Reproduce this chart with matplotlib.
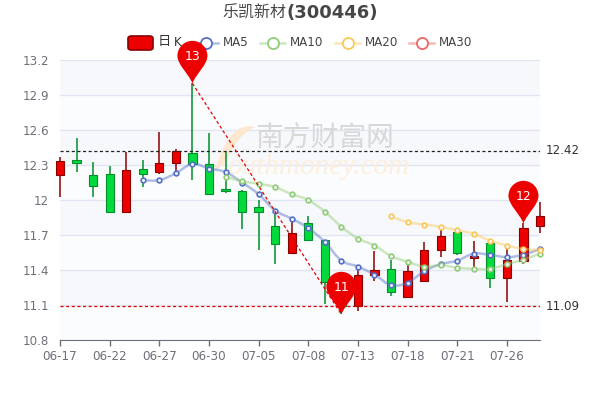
import matplotlib
matplotlib.use("Agg")
import matplotlib.pyplot as plt
from matplotlib.patches import PathPatch, Rectangle, FancyBboxPatch
from matplotlib.path import Path

dias = ["06-17", "06-18", "06-21", "06-22", "06-23", "06-24", "06-27", "06-28", "06-29", "06-30",
        "07-01", "07-02", "07-05", "07-06", "07-07", "07-08", "07-09", "07-12", "07-13", "07-14",
        "07-15", "07-18", "07-19", "07-20", "07-21", "07-22", "07-25", "07-26", "07-27", "07-28"]
abre = [12.21, 12.34, 12.21, 12.22, 11.90, 12.27, 12.24, 12.32, 12.40, 12.31,
        12.09, 12.08, 11.94, 11.78, 11.55, 11.80, 11.66, 11.29, 11.09, 11.36,
        11.41, 11.17, 11.31, 11.57, 11.73, 11.50, 11.63, 11.33, 11.48, 11.78]
cierra = [12.33, 12.32, 12.12, 11.90, 12.26, 12.22, 12.32, 12.42, 12.31, 12.05,
          12.08, 11.90, 11.90, 11.62, 11.72, 11.66, 11.30, 11.09, 11.36, 11.40,
          11.21, 11.39, 11.57, 11.69, 11.55, 11.52, 11.33, 11.49, 11.76, 11.86]
alto = [12.37, 12.53, 12.33, 12.29, 12.41, 12.34, 12.58, 12.44, 13.00, 12.57,
        12.41, 12.09, 12.00, 11.91, 11.83, 11.86, 11.66, 11.29, 11.42, 11.56,
        11.49, 11.44, 11.64, 11.77, 11.73, 11.65, 11.63, 11.59, 11.80, 11.98]
bajo = [12.03, 12.24, 12.03, 11.90, 11.89, 12.11, 12.22, 12.24, 12.17, 12.05,
        12.06, 11.75, 11.57, 11.45, 11.55, 11.65, 11.11, 11.02, 11.05, 11.31,
        11.18, 11.17, 11.31, 11.51, 11.53, 11.38, 11.25, 11.13, 11.45, 11.72]
ma5 = [None, None, None, None, None, 12.17, 12.17, 12.23, 12.31, 12.27,
       12.24, 12.15, 12.05, 11.91, 11.84, 11.76, 11.64, 11.48, 11.43, 11.36,
       11.27, 11.29, 11.39, 11.45, 11.48, 11.54, 11.53, 11.51, 11.53, 11.58]
ma10 = [None, None, None, None, None, None, None, None, None, None,
        12.20, 12.16, 12.14, 12.11, 12.05, 12.00, 11.90, 11.77, 11.67, 11.61,
        11.52, 11.47, 11.43, 11.44, 11.42, 11.41, 11.41, 11.45, 11.49, 11.54]
ma20 = [None] * 20 + [11.86, 11.81, 11.79, 11.77, 11.74, 11.71, 11.65, 11.61, 11.58, 11.57]
niveles = [12.42, 11.09]
pines = [(8, 13.00, "13"), (17, 11.02, "11"), (28, 11.80, "12")]
yticks = [10.8, 11.1, 11.4, 11.7, 12, 12.3, 12.6, 12.9, 13.2]
xticks = [0, 3, 6, 9, 12, 15, 18, 21, 24, 27]

rojo = "#ec0000"
rojo2 = "#8a0000"
verde = "#00da3c"
verde2 = "#008f28"
gris = "#6e7079"
azul = "#5470c6"
lima = "#91cc75"
amarillo = "#fac858"
coral = "#ee6666"
cjk = ["Noto Sans CJK SC", "DejaVu Sans"]

fig = plt.figure(figsize=(6, 4), dpi=100)
ax = fig.add_axes([60 / 600, 60 / 400, 480 / 600, 280 / 400])
ax.set_xlim(0, 29)
ax.set_ylim(10.8, 13.2)
ax.set_facecolor("#ffffff")
for s in ["top", "left", "right"]:
    ax.spines[s].set_visible(False)
ax.spines["bottom"].set_color(gris)
ax.set_xticks(xticks)
ax.set_xticklabels([dias[i] for i in xticks])
ax.set_yticks(yticks)
ax.set_yticklabels([str(v) for v in yticks])
ax.tick_params(axis="x", colors=gris, labelsize=8.6, length=4, width=1, pad=3)
ax.tick_params(axis="y", colors=gris, labelsize=8.6, length=0, pad=8)
ax.grid(axis="y", color="#e0e6f1", lw=1, zorder=1)
ax.set_axisbelow(True)

# bandas de fondo
for k in range(len(yticks) - 1):
    ax.axhspan(yticks[k], yticks[k + 1], color="#f6f8fc" if k % 2 else "#fbfcfd", lw=0, zorder=0)


def px(x, y):
    return x / 600, 1 - y / 400


# marca de agua
logo = Path([px(255, 127), px(232, 122), px(224, 145), px(214, 171),
             px(232, 165), px(228, 140), px(255, 127)],
            [Path.MOVETO, Path.CURVE4, Path.CURVE4, Path.CURVE4, Path.CURVE4, Path.CURVE4, Path.CURVE4])
ax.add_patch(PathPatch(logo, transform=fig.transFigure, fc="#fde8cf", ec="none", zorder=1.5, clip_on=False))
ax.text(*px(325, 139), "南方财富网", transform=fig.transFigure, family=cjk, fontsize=20, fontweight="medium",
        color="#d8d8d8", ha="center", va="center", zorder=1.6)
ax.text(*px(318, 174), "outhmoney.com", transform=fig.transFigure, family="Liberation Serif", style="italic",
        fontsize=21, color="#fdeedd", ha="center", va="baseline", zorder=1.6)

# velas
for i in range(len(dias)):
    sube = cierra[i] >= abre[i]
    ax.vlines(i, bajo[i], alto[i], color=rojo2 if sube else verde2, lw=1.1, zorder=3, clip_on=False)
    ax.add_patch(Rectangle((i - 0.25, min(abre[i], cierra[i])), 0.5, abs(cierra[i] - abre[i]),
                           fc=rojo if sube else verde, ec=rojo2 if sube else verde2, lw=0.8, zorder=3.1,
                           clip_on=False))


def suave(xs, ys, k=0.17):
    # curva tipo echarts smooth
    vert = [(xs[0], ys[0])]
    cod = [Path.MOVETO]
    for i in range(len(xs) - 1):
        a = max(i - 1, 0)
        b = min(i + 2, len(xs) - 1)
        vert.append((xs[i] + k * (xs[i + 1] - xs[a]), ys[i] + k * (ys[i + 1] - ys[a])))
        vert.append((xs[i + 1] - k * (xs[b] - xs[i]), ys[i + 1] - k * (ys[b] - ys[i])))
        vert.append((xs[i + 1], ys[i + 1]))
        cod += [Path.CURVE4, Path.CURVE4, Path.CURVE4]
    return Path(vert, cod)


for serie, col in [(ma5, azul), (ma10, lima), (ma20, amarillo)]:
    xs = [i for i, v in enumerate(serie) if v is not None]
    ys = [v for v in serie if v is not None]
    ax.add_patch(PathPatch(suave(xs, ys), fc="none", ec=col, lw=1.8, alpha=0.45, zorder=4, clip_on=False))
    ax.plot(xs, ys, ls="none", marker="o", ms=3.4, mfc="#f4f6fb", mec=col, mew=1.2, zorder=4.2, clip_on=False)

# lineas de marca
ax.axhline(niveles[0], color="#222222", ls=(0, (2.5, 2)), lw=0.9, zorder=5)
ax.axhline(niveles[1], color="#e00000", ls=(0, (2.5, 2)), lw=0.9, zorder=5)
ax.plot([pines[0][0], pines[1][0]], [pines[0][1], pines[1][1]], color="#e00000", ls=(0, (2.5, 2)), lw=0.9, zorder=5)
for v in niveles:
    ax.text(1.0115, v, str(v), transform=ax.get_yaxis_transform(), color="#333333", fontsize=8.6, va="center")

# leyenda
ax.add_patch(FancyBboxPatch(px(128, 50), 25 / 600, 14 / 400, boxstyle="round,pad=0,rounding_size=0.006",
                            transform=fig.transFigure, fc=rojo, ec=rojo2, lw=1.2, zorder=6, clip_on=False,
                            mutation_aspect=1.0))
ax.text(*px(158, 42), "日", transform=fig.transFigure, family=cjk, fontsize=9.5, color="#333333", va="center", zorder=6)
ax.text(*px(174, 43), "K", transform=fig.transFigure, fontsize=8.6, color="#333333", va="center", zorder=6)
for x0, nombre, col in [(193, "MA5", azul), (260, "MA10", lima), (335, "MA20", amarillo), (409, "MA30", coral)]:
    a = px(x0, 42.5)
    b = px(x0 + 25, 42.5)
    ax.plot([a[0], b[0]], [a[1], b[1]], color=col, lw=1.8, alpha=0.45, transform=fig.transFigure, zorder=6, clip_on=False)
    c = px(x0 + 12.5, 42.5)
    ax.plot([c[0]], [c[1]], marker="o", ms=8, mfc="white", mec=col, mew=1.3, transform=fig.transFigure, zorder=6.1,
            clip_on=False)
    ax.text(*px(x0 + 30, 43), nombre, transform=fig.transFigure, fontsize=8.6, color="#444444", va="center", zorder=6)

# titulo
ax.text(*px(254, 13), "乐凯新材", transform=fig.transFigure, family=cjk, fontsize=11.5, color="#464646",
        ha="center", va="center", zorder=6)
ax.text(*px(287, 13), "(300446)", transform=fig.transFigure, fontsize=13, fontweight="bold", color="#464646",
        ha="left", va="center", zorder=6)

# pines
fig.canvas.draw()
for i, v, txt in pines:
    tx, ty = ax.transData.transform((i, v))
    r = 15
    cy = ty + 27.5
    k = 0.5523 * r
    verts = [(tx, ty), (tx - 4, ty + 10), (tx - r, cy - 9), (tx - r, cy),
             (tx - r, cy + k), (tx - k, cy + r), (tx, cy + r),
             (tx + k, cy + r), (tx + r, cy + k), (tx + r, cy),
             (tx + r, cy - 9), (tx + 4, ty + 10), (tx, ty), (tx, ty)]
    cods = [Path.MOVETO] + [Path.CURVE4] * 12 + [Path.CLOSEPOLY]
    ax.add_patch(PathPatch(Path(verts, cods), transform=None, fc="#ec0000", ec="none", zorder=7, clip_on=False))
    ax.annotate(txt, (tx, cy - 1), xycoords="figure pixels", color="white", fontsize=9, ha="center", va="center",
                zorder=8, annotation_clip=False)

fig.savefig("out.png", dpi=100)
